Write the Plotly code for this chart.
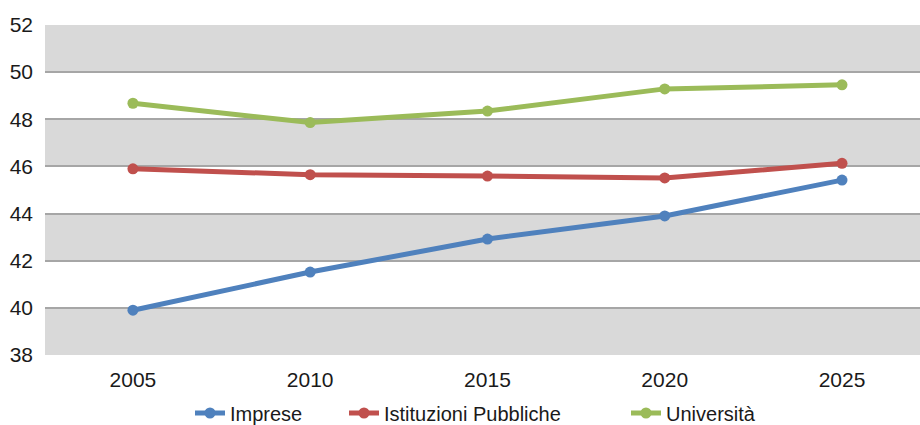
import plotly.graph_objects as go

# Years on the horizontal axis
anni = [2005, 2010, 2015, 2020, 2025]

# Series values
imprese = [39.9, 41.52, 42.92, 43.9, 45.42]
istituzioni = [45.9, 45.65, 45.59, 45.51, 46.13]
universita = [48.68, 47.86, 48.35, 49.29, 49.46]

serie_nomi = ["Imprese", "Istituzioni Pubbliche", "Università"]
serie_valori = [imprese, istituzioni, universita]
colori = ["#4F81BD", "#C0504D", "#9BBB59"]

# Y axis ticks
y_ticks = [38, 40, 42, 44, 46, 48, 50, 52]

FONT = "Liberation Sans Narrow, Arial Narrow, Liberation Sans, sans-serif"
TXT = "#1a1a1a"

fig = go.Figure()

legend_ids = ["legend", "legend2", "legend3"]
for nome, valori, colore, leg in zip(serie_nomi, serie_valori, colori, legend_ids):
    fig.add_trace(go.Scatter(
        x=anni, y=valori, name=nome, mode="lines+markers",
        line=dict(color=colore, width=5),
        marker=dict(color=colore, size=11),
        legend=leg,
    ))

# Alternating grey bands between grid lines
shapes = []
for i in range(0, len(y_ticks) - 1, 2):
    shapes.append(dict(
        type="rect", xref="paper", yref="y", x0=0, x1=1,
        y0=y_ticks[i], y1=y_ticks[i + 1],
        fillcolor="#D9D9D9", line=dict(width=0), layer="below",
    ))

legend_style = dict(
    orientation="h", yanchor="middle", xanchor="left",
    xref="container", yref="container", y=(425 - 413) / 425,
    font=dict(family=FONT, size=20, color=TXT),
    bgcolor="rgba(0,0,0,0)", borderwidth=0,
)

fig.update_layout(
    width=920, height=425,
    margin=dict(l=45, r=0, t=25, b=70, autoexpand=False),
    paper_bgcolor="white", plot_bgcolor="white",
    font=dict(family=FONT, size=21, color=TXT),
    shapes=shapes,
    showlegend=True,
    legend=dict(legend_style, x=190 / 920),
    legend2=dict(legend_style, x=344 / 920),
    legend3=dict(legend_style, x=626 / 920),
    xaxis=dict(
        range=[2002.52, 2027.2], tickvals=anni, ticktext=[str(a) for a in anni],
        showgrid=False, zeroline=False, showline=False, ticks="",
        ticklabelstandoff=10, automargin=False,
        tickfont=dict(family=FONT, size=21, color=TXT),
    ),
    yaxis=dict(
        range=[38, 52], tickvals=y_ticks, showgrid=True,
        gridcolor="#A6A6A6", gridwidth=2, zeroline=False, showline=False,
        ticks="", ticklabelstandoff=11, automargin=False,
        tickfont=dict(family=FONT, size=21, color=TXT),
    ),
)

fig.write_html("out.html")
